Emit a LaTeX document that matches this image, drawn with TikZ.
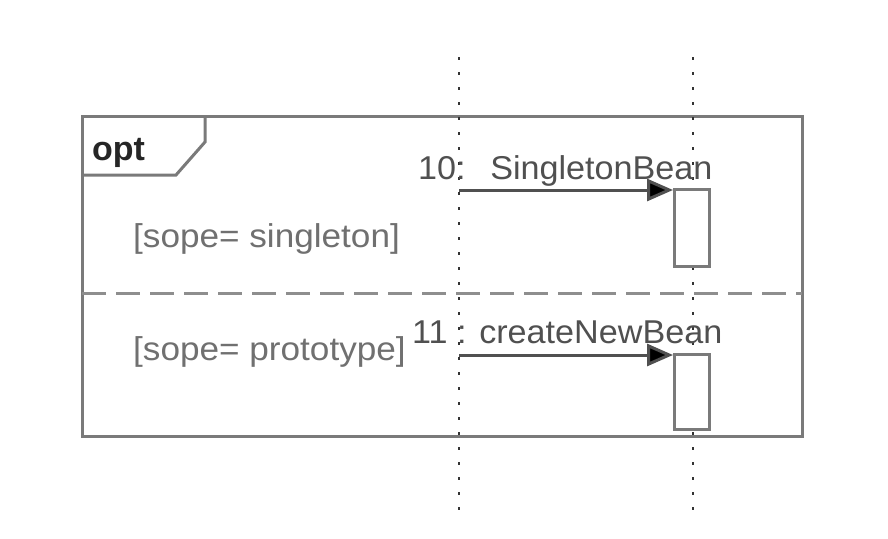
\documentclass[tikz,border=0pt]{standalone}
\usepackage{fontspec}
\setmainfont{Liberation Sans}
\newfontfamily\guardfont[FakeStretch=1.065]{Liberation Sans}
\newfontfamily\msgfont[FakeStretch=1.035]{Liberation Sans}
\usetikzlibrary{arrows.meta}
\definecolor{framegray}{HTML}{7A7A7A}
\definecolor{guardgray}{HTML}{707070}
\definecolor{msggray}{HTML}{505050}
\tikzset{
  framebox/.style={draw=framegray, line width=3pt},
  sepline/.style={draw=framegray!85, line width=3pt, dash pattern=on 24pt off 10pt},
  lifeline/.style={draw=black!80, line width=2.8pt, dash pattern=on 3pt off 12pt},
  actbox/.style={draw=framegray, line width=2.5pt, fill=white, minimum width=35pt, minimum height=#1, anchor=north west, inner sep=0pt},
  msgline/.style={draw=msggray, line width=3pt, -{Triangle[length=26pt,width=22pt,fill=black]}},
  guardtxt/.style={text=guardgray, font=\guardfont\fontsize{33}{38}\selectfont, anchor=base west, inner sep=0pt},
  msgtxt/.style={text=msggray, font=\msgfont\fontsize{33}{38}\selectfont, anchor=base west, inner sep=0pt},
  opttxt/.style={text=black!85, font=\bfseries\fontsize{34}{38}\selectfont, anchor=base west, inner sep=0pt}
}
\begin{document}
\begin{tikzpicture}[x=1pt,y=-1pt]
\useasboundingbox[fill=white] (0,0) rectangle (888,538);
% frame
\draw[framebox] (82,116) rectangle (802,436);
\draw[framebox] (205,116) -- (205,142) -- (176,175) -- (82,175);
\draw[sepline] (82,293) -- (802,293);
% lifelines
\coordinate (l1top) at (459,57);
\coordinate (l1bot) at (459,516);
\coordinate (l2top) at (693,57);
\coordinate (l2bot) at (693,516);
\draw[lifeline] (l1top) -- (l1bot);
\draw[lifeline] (l2top) -- (l2bot);
% activations
\node[actbox=77pt] (a1) at (673,188) {};
\node[actbox=75pt] (a2) at (673,353) {};
% messages
\coordinate (m1) at (459,190);
\coordinate (m2) at (459,355);
\draw[msgline] (m1) -- (a1.west |- m1);
\draw[msgline] (m2) -- (a2.west |- m2);
% texts
\node[opttxt] (opt) at (92,160) {opt};
\node[guardtxt] (g1) at (133,247) {[sope= singleton]};
\node[guardtxt] (g2) at (133,360) {[sope= prototype]};
\node[msgtxt] (t1) at (418,179) {10:\hspace{12pt} SingletonBean};
\node[msgtxt] (t2) at (412,343) {11 : createNewBean};
\end{tikzpicture}
\end{document}
